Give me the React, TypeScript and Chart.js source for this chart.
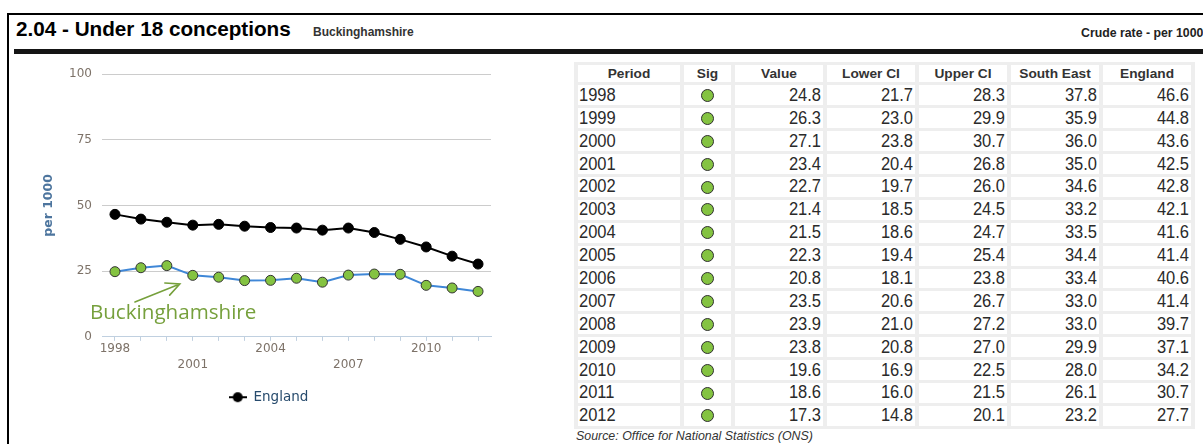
import { useEffect, useRef } from 'react';
import { Chart, registerables } from 'chart.js';

Chart.register(...registerables);

const PERIODS = ['1998', '1999', '2000', '2001', '2002', '2003', '2004', '2005', '2006', '2007', '2008', '2009', '2010', '2011', '2012'];
const VALUES = [24.8, 26.3, 27.1, 23.4, 22.7, 21.4, 21.5, 22.3, 20.8, 23.5, 23.9, 23.8, 19.6, 18.6, 17.3];
const LOWER_CI = [21.7, 23.0, 23.8, 20.4, 19.7, 18.5, 18.6, 19.4, 18.1, 20.6, 21.0, 20.8, 16.9, 16.0, 14.8];
const UPPER_CI = [28.3, 29.9, 30.7, 26.8, 26.0, 24.5, 24.7, 25.4, 23.8, 26.7, 27.2, 27.0, 22.5, 21.5, 20.1];
const SOUTH_EAST = [37.8, 35.9, 36.0, 35.0, 34.6, 33.2, 33.5, 34.4, 33.4, 33.0, 33.0, 29.9, 28.0, 26.1, 23.2];
const ENGLAND = [46.6, 44.8, 43.6, 42.5, 42.8, 42.1, 41.6, 41.4, 40.6, 41.4, 39.7, 37.1, 34.2, 30.7, 27.7];
const X_TICK_LABELS_TOP = ['1998', '2004', '2010'];
const X_TICK_LABELS_BOTTOM = ['2001', '2007'];
const TABLE_HEADERS = ['Period', 'Sig', 'Value', 'Lower CI', 'Upper CI', 'South East', 'England'];

const AREA_NAME = 'Buckinghamshire';
const TICK_COLOR = '#7d7268';
const TICK_FONT = 'DejaVu Sans';
const GREEN = '#84c341';
const NOTE_GREEN = '#76a03c';
// annotation placement in data units (category index, value)
const NOTE_TEXT_AT = [-0.965, 6.8];
const NOTE_ARROW_TAIL = [0.77, 13.3];
const NOTE_ARROW_TIP = [2.5, 20.1];
const LEGEND_SHIFT = 18;

const FONT = '"Liberation Sans", Arial, sans-serif';
const COL_WIDTHS = [102, 47, 88, 88, 88, 88, 88];

function makeLegendMarker() {
  const c = document.createElement('canvas');
  c.width = 18;
  c.height = 12;
  const g = c.getContext('2d');
  if (g) {
    g.strokeStyle = '#000';
    g.lineWidth = 2;
    g.beginPath();
    g.moveTo(0, 6);
    g.lineTo(18, 6);
    g.stroke();
    g.fillStyle = '#000';
    g.beginPath();
    g.arc(9, 6, 5, 0, Math.PI * 2);
    g.fill();
  }
  return c;
}

const notePlugin = {
  id: 'bucksNote',
  afterDraw(chart: any) {
    const { ctx } = chart;
    const x = chart.scales.x;
    const y = chart.scales.y;
    const tx = x.getPixelForValue(NOTE_TEXT_AT[0]);
    const ty = y.getPixelForValue(NOTE_TEXT_AT[1]);
    const ax = x.getPixelForValue(NOTE_ARROW_TAIL[0]);
    const ay = y.getPixelForValue(NOTE_ARROW_TAIL[1]);
    const bx = x.getPixelForValue(NOTE_ARROW_TIP[0]);
    const by = y.getPixelForValue(NOTE_ARROW_TIP[1]);
    ctx.save();
    ctx.fillStyle = NOTE_GREEN;
    ctx.font = '20.6px "Open Sans"';
    ctx.textBaseline = 'alphabetic';
    ctx.textAlign = 'left';
    ctx.fillText(AREA_NAME, tx, ty);
    ctx.strokeStyle = NOTE_GREEN;
    ctx.lineWidth = 1.6;
    ctx.lineCap = 'round';
    ctx.beginPath();
    ctx.moveTo(ax, ay);
    ctx.lineTo(bx, by);
    const ang = Math.atan2(ay - by, ax - bx);
    const len = 15;
    const spread = 0.45;
    ctx.moveTo(bx + len * Math.cos(ang - spread), by + len * Math.sin(ang - spread));
    ctx.lineTo(bx, by);
    ctx.lineTo(bx + len * Math.cos(ang + spread), by + len * Math.sin(ang + spread));
    ctx.stroke();
    ctx.restore();
  },
};

const legendShiftPlugin = {
  id: 'legendShift',
  afterLayout(chart: any) {
    const l = chart.legend;
    if (l) {
      l.left += LEGEND_SHIFT;
      l.right += LEGEND_SHIFT;
    }
  },
};

function SigDot() {
  return (
    <span
      style={{
        display: 'inline-block',
        width: 11,
        height: 11,
        borderRadius: '50%',
        background: GREEN,
        border: '1.6px solid #2f2f2f',
        verticalAlign: 'middle',
        position: 'relative',
        top: -1,
      }}
    />
  );
}

function Tall({ children }: { children: any }) {
  return (
    <span style={{ display: 'inline-block', transform: 'scaleY(1.1)', transformOrigin: '50% 60%' }}>{children}</span>
  );
}

export default function App() {
  const canvasRef = useRef<HTMLCanvasElement | null>(null);

  useEffect(() => {
    if (!canvasRef.current) return;
    const marker = makeLegendMarker();
    const chart = new Chart(canvasRef.current, {
      type: 'line',
      data: {
        labels: PERIODS,
        datasets: [
          {
            label: AREA_NAME,
            data: VALUES,
            borderColor: '#3f87d7',
            borderWidth: 2,
            backgroundColor: GREEN,
            pointBackgroundColor: GREEN,
            pointBorderColor: '#333333',
            pointBorderWidth: 1,
            pointRadius: 5,
            tension: 0,
          },
          {
            label: 'England',
            data: ENGLAND,
            borderColor: '#000000',
            borderWidth: 2,
            backgroundColor: '#000000',
            pointBackgroundColor: '#000000',
            pointBorderColor: '#000000',
            pointBorderWidth: 1,
            pointRadius: 5,
            tension: 0,
          },
        ],
      },
      options: {
        animation: false,
        responsive: false,
        layout: { padding: { top: 18, right: 69, bottom: 30, left: 0 } },
        plugins: {
          legend: {
            position: 'bottom',
            labels: {
              usePointStyle: true,
              pointStyle: marker as any,
              pointStyleWidth: 18,
              padding: 17,
              color: '#274b6d',
              font: { family: TICK_FONT, size: 13.5 },
              filter: (item: any) => item.datasetIndex === 1,
            },
          },
          tooltip: { enabled: false },
        },
        scales: {
          x: {
            offset: true,
            grid: {
              display: true,
              drawOnChartArea: false,
              drawTicks: true,
              tickLength: 4,
              color: '#c0d0e0',
              offset: false,
            },
            border: { display: true, color: '#c0d0e0', width: 1 },
            ticks: {
              autoSkip: false,
              maxRotation: 0,
              minRotation: 0,
              padding: 0,
              color: TICK_COLOR,
              font: { family: TICK_FONT, size: 12, lineHeight: 1.36 },
              callback: (_v: any, i: number) => {
                const p = PERIODS[i];
                if (X_TICK_LABELS_TOP.includes(p)) return p;
                if (X_TICK_LABELS_BOTTOM.includes(p)) return ['', p];
                return '';
              },
            },
          },
          y: {
            min: 0,
            max: 100,
            ticks: {
              stepSize: 25,
              padding: 10,
              color: TICK_COLOR,
              font: { family: TICK_FONT, size: 12, lineHeight: 1.2 },
            },
            grid: {
              drawTicks: false,
              color: (c: any) => (c.tick && c.tick.value === 0 ? 'rgba(0,0,0,0)' : '#cccccc'),
            },
            border: { display: false },
            title: {
              display: true,
              text: 'per 1000',
              color: '#4d759e',
              font: { family: TICK_FONT, size: 12.5, weight: 'bold', lineHeight: 1.2 },
              padding: { top: 31.5, bottom: 0 },
            },
            afterFit: (s: any) => {
              s.width = 92;
            },
          },
        },
      } as any,
      plugins: [notePlugin, legendShiftPlugin],
    });
    return () => chart.destroy();
  }, []);

  const cellBase: any = {
    background: '#ffffff',
    padding: '0 2px',
    boxSizing: 'border-box',
    whiteSpace: 'nowrap',
  };

  return (
    <div
      style={{
        position: 'absolute',
        left: 0,
        top: 0,
        width: 1203,
        height: 444,
        overflow: 'hidden',
        background: '#ffffff',
        fontFamily: FONT,
        color: '#333',
      }}
    >
      <div style={{ position: 'absolute', left: 7, top: 13, width: 2, height: 431, background: '#000' }} />
      <div style={{ position: 'absolute', left: 7, top: 13, width: 1196, height: 2, background: '#000' }} />
      <div
        style={{
          position: 'absolute',
          left: 16,
          top: 17,
          fontSize: 20.7,
          lineHeight: '24px',
          fontWeight: 'bold',
          color: '#000',
          whiteSpace: 'nowrap',
        }}
      >
        2.04 - Under 18 conceptions
      </div>
      <div
        style={{
          position: 'absolute',
          left: 313,
          top: 25,
          fontSize: 12,
          lineHeight: '14px',
          fontWeight: 'bold',
          color: '#333',
          whiteSpace: 'nowrap',
        }}
      >
        {AREA_NAME}
      </div>
      <div
        style={{
          position: 'absolute',
          left: 1081,
          top: 26,
          fontSize: 12.3,
          lineHeight: '14px',
          fontWeight: 'bold',
          color: '#222',
          whiteSpace: 'nowrap',
        }}
      >
        Crude rate - per 1000
      </div>
      <div style={{ position: 'absolute', left: 14, top: 49, width: 1189, height: 5, background: '#151515' }} />

      <canvas ref={canvasRef} width={550} height={388} style={{ position: 'absolute', left: 10, top: 56, width: 550, height: 388 }} />

      <table
        style={{
          position: 'absolute',
          left: 574,
          top: 62,
          borderCollapse: 'separate',
          borderSpacing: '4px 3px',
          background: '#eeeeee',
          tableLayout: 'fixed',
          fontFamily: FONT,
        }}
      >
        <colgroup>
          {COL_WIDTHS.map((w, i) => (
            <col key={i} style={{ width: w }} />
          ))}
        </colgroup>
        <thead>
          <tr>
            {TABLE_HEADERS.map((h) => (
              <th
                key={h}
                style={{
                  ...cellBase,
                  height: 17.4,
                  lineHeight: '17px',
                  fontSize: 13.7,
                  fontWeight: 'bold',
                  textAlign: 'center',
                  color: '#333',
                }}
              >
                {h}
              </th>
            ))}
          </tr>
        </thead>
        <tbody>
          {PERIODS.map((p, i) => {
            const td: any = { ...cellBase, height: 19.9, lineHeight: '19px', fontSize: 16.5, color: '#2a2a2a', textAlign: 'right' };
            return (
              <tr key={p}>
                <td style={{ ...td, textAlign: 'left', paddingLeft: 1 }}>
                  <Tall>{p}</Tall>
                </td>
                <td style={{ ...td, textAlign: 'center' }}>
                  <SigDot />
                </td>
                <td style={td}>
                  <Tall>{VALUES[i].toFixed(1)}</Tall>
                </td>
                <td style={td}>
                  <Tall>{LOWER_CI[i].toFixed(1)}</Tall>
                </td>
                <td style={td}>
                  <Tall>{UPPER_CI[i].toFixed(1)}</Tall>
                </td>
                <td style={td}>
                  <Tall>{SOUTH_EAST[i].toFixed(1)}</Tall>
                </td>
                <td style={td}>
                  <Tall>{ENGLAND[i].toFixed(1)}</Tall>
                </td>
              </tr>
            );
          })}
        </tbody>
      </table>
      <div
        style={{
          position: 'absolute',
          left: 576,
          top: 429,
          fontSize: 12.4,
          lineHeight: '14px',
          fontStyle: 'italic',
          color: '#333',
          whiteSpace: 'nowrap',
        }}
      >
        Source: Office for National Statistics (ONS)
      </div>
    </div>
  );
}
